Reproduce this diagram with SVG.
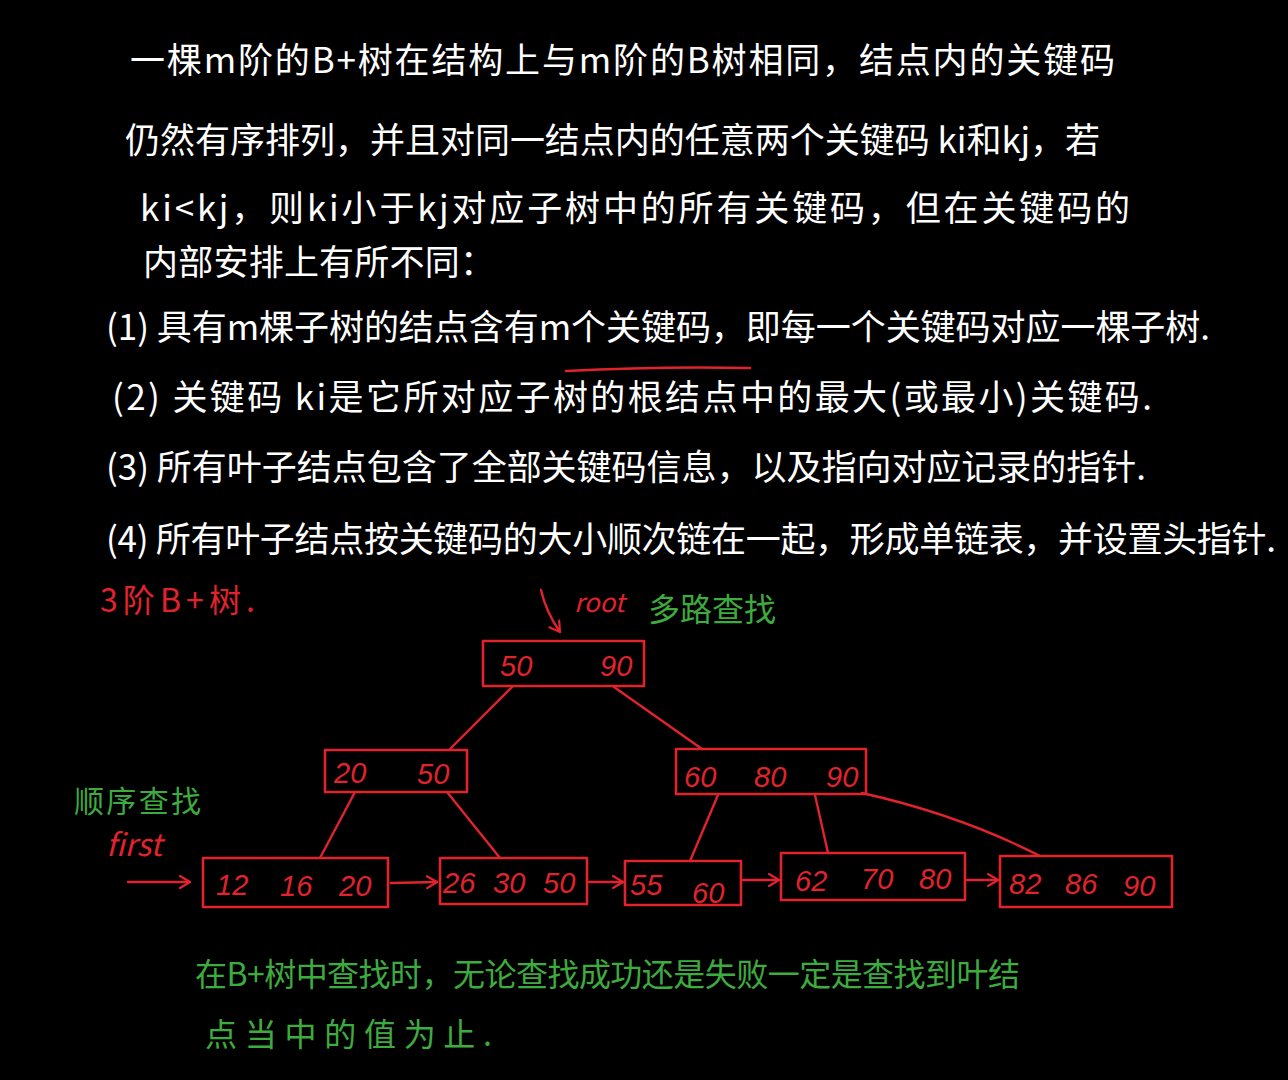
<svg xmlns="http://www.w3.org/2000/svg" width="1288" height="1080" viewBox="0 0 1288 1080">
<defs>
<style>
.w{fill:#ffffff;font-family:"Noto Sans CJK SC","Liberation Sans",sans-serif;font-size:35px;}
.g{fill:#3dab3f;font-family:"Noto Sans CJK SC","Liberation Sans",sans-serif;}
.r{fill:#e0232d;font-family:"Noto Sans CJK SC","Liberation Sans",sans-serif;}
.n{fill:#e0232d;font-family:"Liberation Sans",sans-serif;font-size:29px;font-style:italic;}
.box{fill:none;stroke:#e0232d;stroke-width:2.6;stroke-linejoin:round;}
.ln{fill:none;stroke:#e0232d;stroke-width:2.4;stroke-linecap:round;}
</style>
<marker id="ah" viewBox="0 0 12 14" refX="11" refY="7" markerWidth="12" markerHeight="14" markerUnits="userSpaceOnUse" orient="auto">
<path d="M1,1 L11,7 L1,13" fill="none" stroke="#e0232d" stroke-width="2.2" stroke-linecap="round" stroke-linejoin="round"/>
</marker>
</defs>
<rect width="1288" height="1080" fill="#000000"/>
<g id="text-body">
<text class="w" x="130" y="73" textLength="985" lengthAdjust="spacing">一棵m阶的B+树在结构上与m阶的B树相同，结点内的关键码</text>
<text class="w" x="125" y="153" textLength="975" lengthAdjust="spacing">仍然有序排列，并且对同一结点内的任意两个关键码 ki和kj，若</text>
<text class="w" x="140" y="221" textLength="990" lengthAdjust="spacing">ki&lt;kj，则ki小于kj对应子树中的所有关键码，但在关键码的</text>
<text class="w" x="143" y="275" textLength="352" lengthAdjust="spacing">内部安排上有所不同：</text>
<text class="w" x="106" y="340" textLength="1104" lengthAdjust="spacing">(1) 具有m棵子树的结点含有m个关键码，即每一个关键码对应一棵子树.</text>
<text class="w" x="112" y="410" textLength="1040" lengthAdjust="spacing">(2) 关键码 ki是它所对应子树的根结点中的最大(或最小)关键码.</text>
<text class="w" x="106" y="480" textLength="1040" lengthAdjust="spacing">(3) 所有叶子结点包含了全部关键码信息，以及指向对应记录的指针.</text>
<text class="w" x="106" y="552" textLength="1170" lengthAdjust="spacing">(4) 所有叶子结点按关键码的大小顺次链在一起，形成单链表，并设置头指针.</text>
<path class="ln" d="M566,371 Q660,366 750,368"/>
</g>
<g id="labels">
<text class="r" x="100" y="612" font-size="32" textLength="155" lengthAdjust="spacing">3阶B+树.</text>
<text class="r" x="574" y="612" font-size="26" font-style="italic">root</text>
<text class="g" x="648" y="621" font-size="32" textLength="128" lengthAdjust="spacing">多路查找</text>
<text class="g" x="74" y="812" font-size="30" textLength="127" lengthAdjust="spacing">顺序查找</text>
<text class="r" x="106" y="856" font-size="31" font-style="italic">first</text>
<text class="g" x="195" y="986" font-size="32" textLength="825" lengthAdjust="spacing">在B+树中查找时，无论查找成功还是失败一定是查找到叶结</text>
<text class="g" x="205" y="1046" font-size="32" textLength="287" lengthAdjust="spacing">点当中的值为止.</text>
</g>
<g id="connectors">
<path class="ln" d="M541,590 Q546,612 560,632" marker-end="url(#ah)"/>
<path class="ln" d="M512,687 L450,749"/>
<path class="ln" d="M614,687 L702,749"/>
<path class="ln" d="M355,792 L320,858"/>
<path class="ln" d="M447,792 L500,858"/>
<path class="ln" d="M718,795 L690,861"/>
<path class="ln" d="M815,795 L828,853"/>
<path class="ln" d="M862,793 Q960,815 1040,856"/>
<path class="ln" d="M128,882 L190,882" marker-end="url(#ah)"/>
<path class="ln" d="M391,883 L437,882" marker-end="url(#ah)"/>
<path class="ln" d="M589,882 L623,882" marker-end="url(#ah)"/>
<path class="ln" d="M743,880 L779,880" marker-end="url(#ah)"/>
<path class="ln" d="M967,880 L998,880" marker-end="url(#ah)"/>
</g>
<g id="node-root">
<rect class="box" x="483" y="641" width="161" height="45"/>
<text class="n" x="500" y="676">50</text>
<text class="n" x="600" y="676">90</text>
</g>
<g id="node-left">
<rect class="box" x="325" y="750" width="142" height="42"/>
<text class="n" x="334" y="783">20</text>
<text class="n" x="417" y="784">50</text>
</g>
<g id="node-right">
<rect class="box" x="676" y="749" width="190" height="45"/>
<text class="n" x="684" y="787">60</text>
<text class="n" x="754" y="787">80</text>
<text class="n" x="826" y="787">90</text>
</g>
<g id="leaf-1">
<rect class="box" x="203" y="858" width="185" height="49"/>
<text class="n" x="216" y="895">12</text>
<text class="n" x="280" y="896">16</text>
<text class="n" x="339" y="896">20</text>
</g>
<g id="leaf-2">
<rect class="box" x="440" y="858" width="147" height="46"/>
<text class="n" x="443" y="893">26</text>
<text class="n" x="493" y="893">30</text>
<text class="n" x="543" y="893">50</text>
</g>
<g id="leaf-3">
<rect class="box" x="625" y="861" width="116" height="44"/>
<text class="n" x="630" y="895">55</text>
<text class="n" x="692" y="903">60</text>
</g>
<g id="leaf-4">
<rect class="box" x="781" y="853" width="184" height="47"/>
<text class="n" x="795" y="891">62</text>
<text class="n" x="861" y="889">70</text>
<text class="n" x="919" y="889">80</text>
</g>
<g id="leaf-5">
<rect class="box" x="1000" y="856" width="172" height="51"/>
<text class="n" x="1009" y="894">82</text>
<text class="n" x="1065" y="894">86</text>
<text class="n" x="1123" y="896">90</text>
</g>
</svg>
